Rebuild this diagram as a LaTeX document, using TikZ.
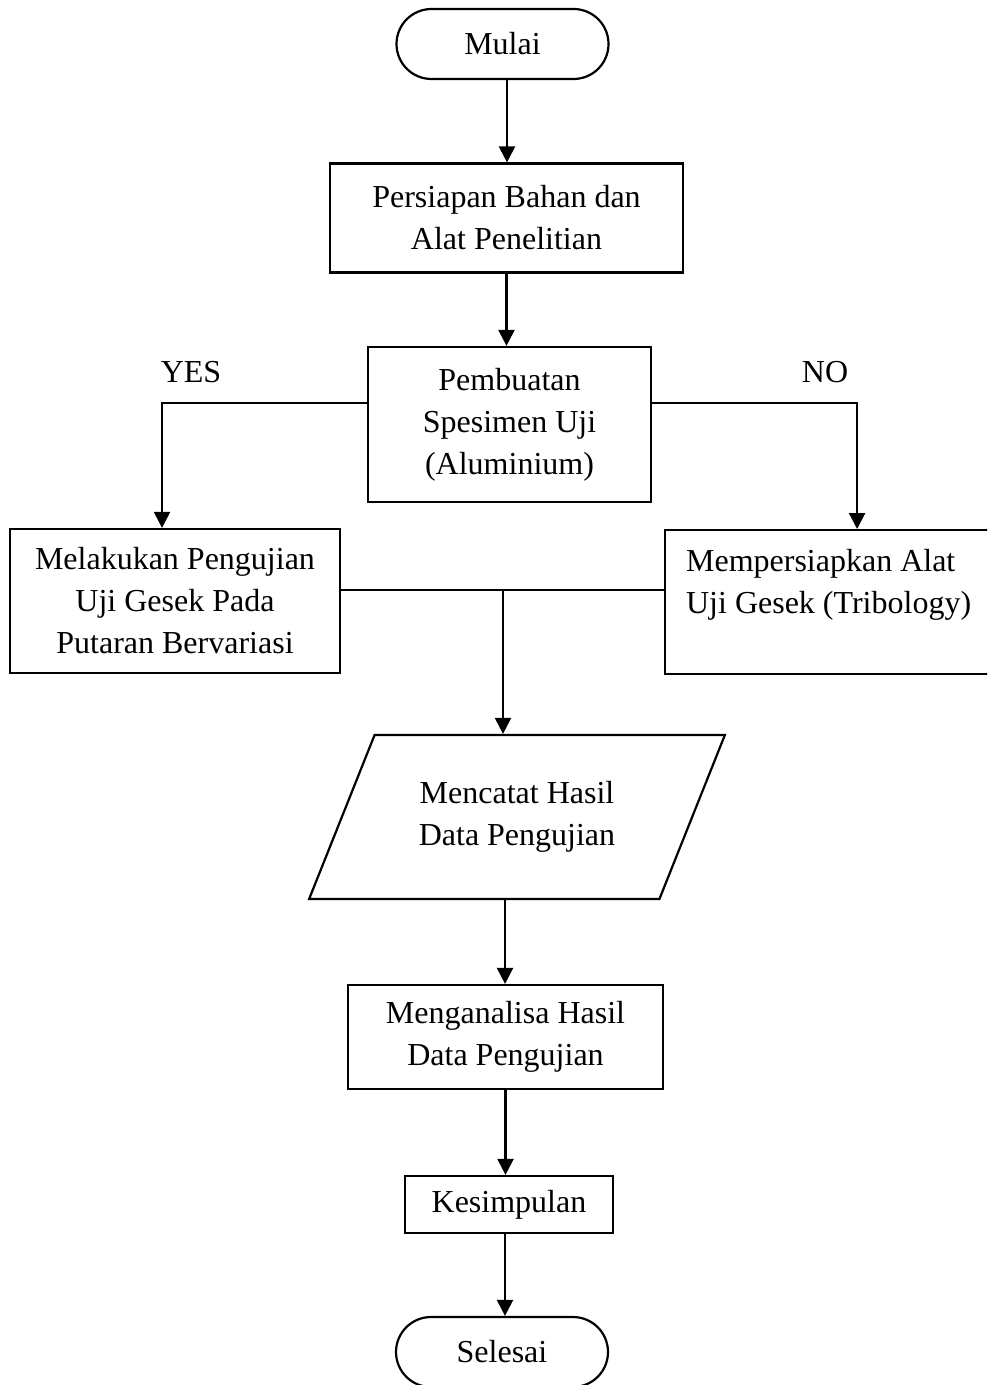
\documentclass[tikz,border=0pt]{standalone}
\usepackage{fontspec}
\setmainfont{Liberation Serif}
\usetikzlibrary{shapes.misc,shapes.geometric,arrows.meta}
\begin{document}
\begin{tikzpicture}[x=0.5pt,y=-0.5pt,
  every node/.style={font=\fontsize{16}{21}\selectfont},
  line/.style={line width=1.1pt},
  arr/.style={line width=1.1pt, -{Triangle[length=8pt,width=8pt]}},
  box/.style={draw, line width=1.1pt, rectangle, align=center, inner sep=0pt},
  term/.style={draw, line width=1.1pt, rounded rectangle, minimum width=106pt, minimum height=35pt, inner sep=0pt},
]
\clip (0,0) rectangle (987,1385);
\node[term] (mulai) at (502.5,44) {Mulai};
\node[box, minimum width=176.5pt, minimum height=54.5pt] (siap) at (506.5,218) {Persiapan Bahan dan\\Alat Penelitian};
\node[box, minimum width=141.5pt, minimum height=77.5pt] (buat) at (509.5,424.5) {Pembuatan\\Spesimen Uji\\(Aluminium)};
\node[box, minimum width=165pt, minimum height=72pt] (uji) at (175,601) {Melakukan Pengujian\\Uji Gesek Pada\\Putaran Bervariasi};
\node[box, align=flush left, text width=150pt, inner xsep=10.5pt, minimum height=72pt, anchor=north west] (alat) at (664,529) {Mempersiapkan Alat\\Uji Gesek (Tribology)\\\mbox{}};
\node[draw, line width=1.1pt, trapezium, trapezium left angle=57.6, trapezium right angle=122.4, trapezium stretches=true, minimum width=208pt, minimum height=82pt, inner sep=0pt, align=center] (catat) at (517,817) {Mencatat Hasil\\Data Pengujian};
\node[box, minimum width=157.5pt, minimum height=52pt] (analisa) at (505.5,1037) {Menganalisa Hasil\\Data Pengujian};
\node[box, minimum width=104pt, minimum height=28.5pt] (simpul) at (509,1204.5) {Kesimpulan};
\node[term] (selesai) at (502,1352) {Selesai};
\node (yes) at (191,372) {YES};
\node (no) at (825,372) {NO};

\coordinate (a1) at ([xshift=2.25pt]mulai.south);
\draw[arr] (a1) -- (a1 |- siap.north);
\draw[arr] (siap.south) -- (siap.south |- buat.north);
\draw[arr] ([yshift=10.75pt]buat.west) -| ([xshift=-6.5pt]uji.north);
\draw[arr] ([yshift=10.75pt]buat.east) -| ([xshift=10.5pt]alat.north);
\coordinate (ue) at ([yshift=5.5pt]uji.east);
\draw[line] (ue) -- (ue -| alat.west);
\coordinate (j) at (503,590);
\draw[arr] (j) -- (j |- catat.north);
\coordinate (pb) at ([xshift=-6pt]catat.south);
\draw[arr] (pb) -- (pb |- analisa.north);
\draw[arr] (analisa.south) -- (analisa.south |- simpul.north);
\coordinate (ks) at ([xshift=-2pt]simpul.south);
\draw[arr] (ks) -- (ks |- selesai.north);
\end{tikzpicture}
\end{document}
